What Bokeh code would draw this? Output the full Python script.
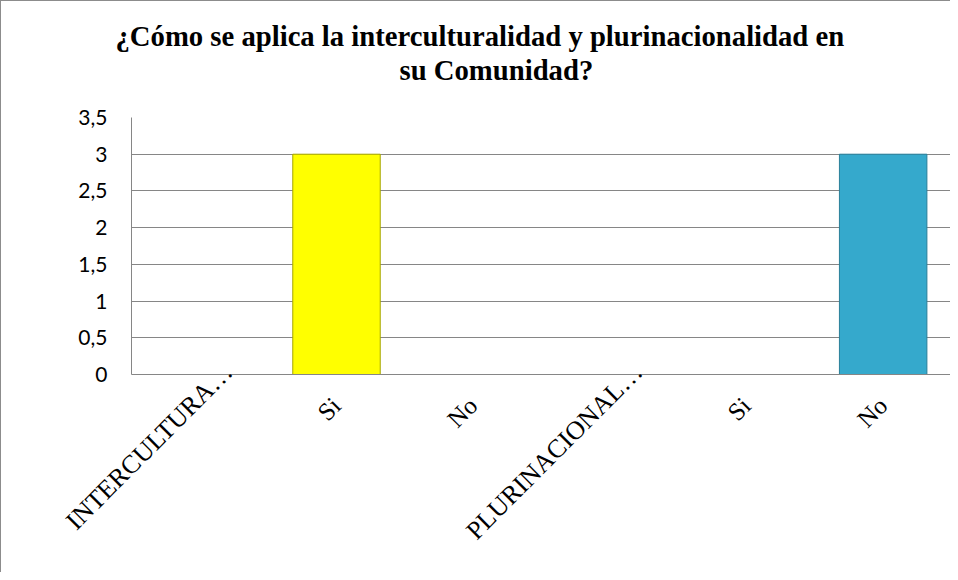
from math import pi
from bokeh.plotting import figure
from bokeh.models import (Range1d, FixedTicker, ColumnDataSource, Title, LinearAxis,
                          CDSView, BooleanFilter)
from bokeh.embed import file_html
from bokeh.resources import INLINE

# ---- data ----
categories = ["INTERCULTURA…", "Si", "No", "PLURINACIONAL…", "Si", "No"]
values = [0, 3, 0, 0, 0, 3]
bar_colors = ["#FFFF00", "#FFFF00", "#FFFF00", "#35A9CC", "#35A9CC", "#35A9CC"]
bar_edges = ["#A6A600", "#A6A600", "#A6A600", "#2A7F99", "#2A7F99", "#2A7F99"]
y_ticks = [0, 0.5, 1, 1.5, 2, 2.5, 3, 3.5]
y_tick_labels = ["0", "0,5", "1", "1,5", "2", "2,5", "3", "3,5"]
title_lines = ["¿Cómo se aplica la interculturalidad y plurinacionalidad en", "su Comunidad?"]

W, H = 950, 572
n = len(categories)
xs = [i + 0.5 for i in range(n)]
src = ColumnDataSource(dict(x=xs, top=values, color=bar_colors, edge=bar_edges))
nonzero = CDSView(filter=BooleanFilter([v > 0 for v in values]))

p = figure(width=W, height=H, output_backend="svg", toolbar_location=None,
           x_range=Range1d(0, n), y_range=Range1d(0, 3.5), x_axis_location=None,
           min_border_left=130, min_border_right=0, min_border_top=116,
           min_border_bottom=199)
p.styles = {"border-left": "1px solid #8c8c8c", "border-top": "1px solid #8c8c8c"}

# title, two lines (last added is outermost); the trailing empty line of the
# second title keeps a line's worth of space between the title and the plot
title_style = dict(align="left", text_font="Liberation Serif", text_font_style="bold",
                   text_font_size="28.7px", text_color="black", standoff=0)
p.add_layout(Title(text=title_lines[1] + "\n", offset=268, **title_style), "above")
p.add_layout(Title(text=title_lines[0], offset=-16, **title_style), "above")

p.vbar(x="x", top="top", width=0.64, bottom=0, fill_color="color", line_color="edge",
       line_width=1, source=src, view=nonzero)

p.outline_line_color = None
p.background_fill_color = "white"
p.xgrid.visible = False

# y axis
p.yaxis.ticker = FixedTicker(ticks=y_ticks)
p.yaxis.major_label_overrides = {t: l for t, l in zip(y_ticks, y_tick_labels)}
p.yaxis.major_tick_out = 0
p.yaxis.major_tick_in = 0
p.yaxis.minor_tick_out = 0
p.yaxis.minor_tick_in = 0
p.yaxis.axis_line_color = "#868686"
p.yaxis.major_label_standoff = 24
p.yaxis.major_label_text_font = "Lato"
p.yaxis.major_label_text_font_size = "21px"
p.yaxis.major_label_text_color = "black"

# x axes: truncated (long) labels are drawn further along their own direction,
# so they get their own axis on a slightly shifted copy of the x range
shift = 0.207
p.extra_x_ranges = {"long": Range1d(-shift, n - shift)}
long_x = [x for x, c in zip(xs, categories) if c.endswith("…")]
short_x = [x for x, c in zip(xs, categories) if not c.endswith("…")]


def make_axis(ticks, standoff, size, **kw):
    return LinearAxis(ticker=FixedTicker(ticks=ticks),
                      major_label_overrides={x: c for x, c in zip(xs, categories) if x in ticks},
                      major_tick_out=0, major_tick_in=0, minor_tick_out=0, minor_tick_in=0,
                      major_label_orientation=pi / 4, major_label_standoff=standoff,
                      major_label_text_font="Liberation Serif",
                      major_label_text_font_size=size, major_label_text_color="black", **kw)


ax_short = make_axis(short_x, 27, "25px", axis_line_color="#868686")
ax_long = make_axis(long_x, -78, "26px", x_range_name="long", axis_line_color=None)
p.add_layout(ax_short, "below")
p.add_layout(ax_long, "below")

p.ygrid.grid_line_color = "#868686"
p.ygrid.grid_line_width = 1
p.ygrid.grid_line_alpha = 1

open("out.html", "w").write(file_html(p, INLINE))
